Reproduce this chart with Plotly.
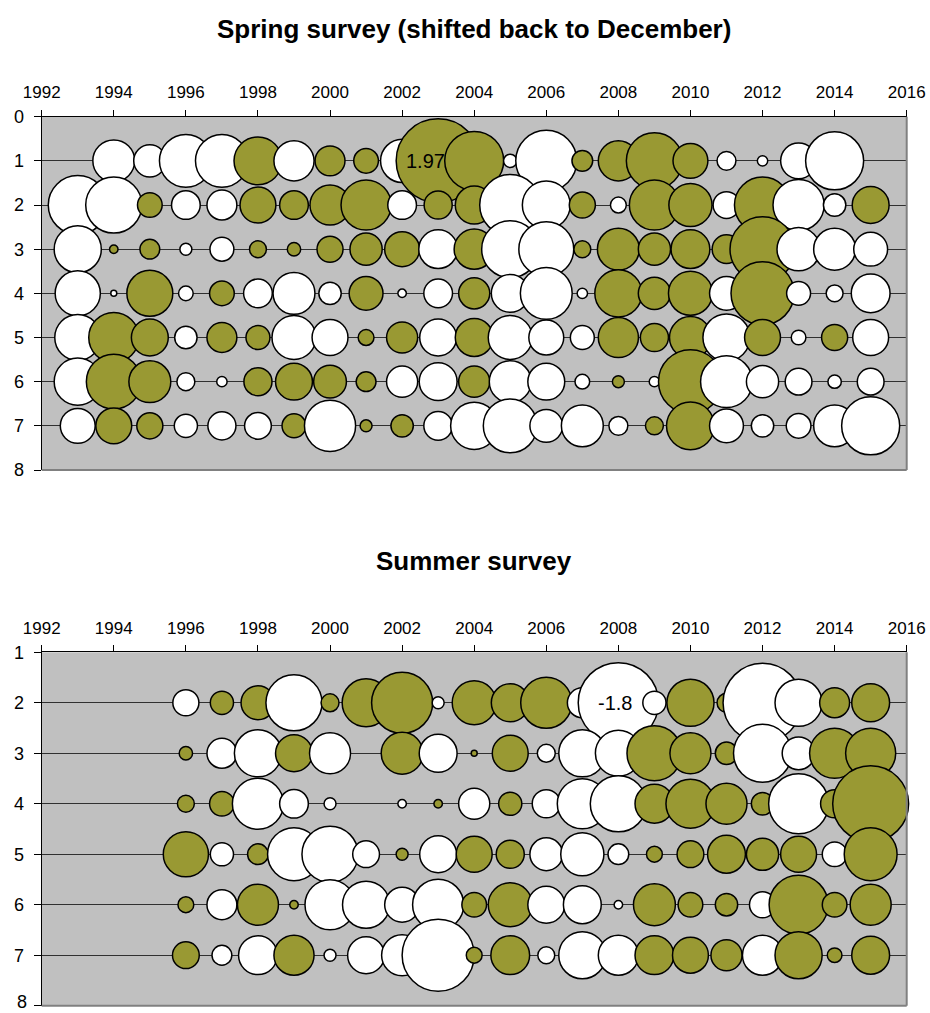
import plotly.graph_objects as go

# Spring survey: anomaly per age (rows) and year (columns), 1993-2015
spring_years = list(range(1993, 2016))
spring_age1 = [None, -0.49, -0.29, -0.78, -0.78, 0.64, -0.45, 0.25, 0.17, -0.52, 1.97, 0.97,
               -0.05, -1.04, 0.12, 0.45, 0.88, 0.34, -0.10, -0.03, -0.36, -0.94, None]
spring_age2 = [-0.97, -0.88, 0.17, -0.23, -0.25, 0.36, 0.23, 0.45, 0.70, -0.23, 0.22, 0.40,
               -1.04, -0.64, 0.19, -0.07, 0.70, 0.52, -0.20, 0.88, -0.73, -0.14, 0.38]
spring_age3 = [-0.62, 0.02, 0.11, -0.04, -0.16, 0.08, 0.05, 0.19, 0.29, 0.34, -0.42, 0.45,
               -0.91, -0.84, 0.08, 0.49, 0.29, 0.42, 0.23, 1.18, -0.52, -0.49, -0.32]
spring_age4 = [-0.57, -0.01, 0.59, -0.06, 0.17, -0.23, -0.49, -0.14, 0.32, -0.02, -0.23, 0.27,
               -0.40, -0.75, -0.03, 0.62, 0.29, 0.54, -0.32, 1.11, -0.16, -0.08, -0.42]
spring_age5 = [-0.59, 0.70, 0.38, -0.14, 0.25, 0.16, -0.54, -0.36, 0.07, 0.27, -0.38, 0.40,
               -0.54, -0.34, -0.16, 0.45, 0.22, 0.49, -0.62, 0.36, -0.06, 0.19, -0.36]
spring_age6 = [-0.62, 0.84, 0.49, -0.09, -0.03, 0.22, 0.38, 0.30, 0.11, -0.27, -0.40, 0.27,
               -0.49, -0.38, -0.06, 0.04, -0.03, 1.14, -0.75, -0.29, -0.20, -0.05, -0.20]
spring_age7 = [-0.34, 0.36, 0.19, -0.15, -0.22, -0.20, 0.16, -0.73, 0.04, 0.14, -0.23, -0.62,
               -0.81, -0.30, -0.49, -0.10, 0.09, 0.64, -0.32, -0.14, -0.17, -0.49, -0.94]

# Summer survey: anomaly per age (rows) and year (columns), 1996-2015
summer_years = list(range(1996, 2016))
summer_age2 = [-0.19, 0.15, 0.32, -0.88, 0.09, 0.64, 1.04, -0.04, 0.54, 0.40,
               0.73, -0.25, -1.80, -0.15, 0.62, 0.10, -1.74, -0.62, 0.25, 0.40]
summer_age3 = [0.05, -0.25, -0.62, 0.38, -0.47, None, 0.49, -0.40, 0.01, 0.36,
               -0.09, -0.62, -0.59, 0.84, 0.47, 0.14, -0.94, -0.30, 0.70, 0.70]
summer_age4 = [0.08, 0.17, -0.73, -0.23, -0.04, None, -0.02, 0.02, -0.27, 0.15,
               -0.22, -0.70, -0.88, 0.42, 0.67, 0.47, 0.14, -1.00, 0.22, 1.61]
summer_age5 = [0.57, -0.15, 0.12, -0.78, -0.88, -0.20, 0.04, -0.38, 0.36, 0.22,
               -0.30, -0.52, -0.12, 0.07, 0.20, 0.40, 0.29, 0.36, -0.17, 0.78]
summer_age6 = [0.07, -0.25, 0.47, 0.02, -0.70, -0.62, -0.34, -0.73, 0.17, 0.54,
               -0.38, -0.40, -0.02, 0.49, 0.17, 0.14, -0.19, 0.97, 0.17, 0.47]
summer_age7 = [0.20, -0.11, -0.42, 0.45, -0.04, -0.38, -0.47, -1.45, 0.07, 0.42,
               -0.08, -0.62, -0.45, 0.42, 0.36, 0.27, -0.45, 0.62, 0.06, 0.40]

spring_rows = [(1, spring_age1), (2, spring_age2), (3, spring_age3), (4, spring_age4),
               (5, spring_age5), (6, spring_age6), (7, spring_age7)]
summer_rows = [(2, summer_age2), (3, summer_age3), (4, summer_age4),
               (5, summer_age5), (6, summer_age6), (7, summer_age7)]

POS = "#999933"
NEG = "#FFFFFF"
FONT = "Liberation Sans, Arial, sans-serif"
MAX_VAL = 1.97
MAX_DIAM = 84
SIZEREF = 2.0 * MAX_VAL / MAX_DIAM ** 2

fig = go.Figure()


def add_rows(rows, years, xa, ya):
    for age, vals in rows:
        xs, ys, ss, cs = [], [], [], []
        for yr, v in zip(years, vals):
            if v is None:
                continue
            xs.append(yr)
            ys.append(age)
            ss.append(abs(v))
            cs.append(POS if v > 0 else NEG)
        fig.add_trace(go.Scatter(
            x=xs, y=ys, mode="markers", xaxis=xa, yaxis=ya,
            showlegend=False, hoverinfo="x+y", cliponaxis=False,
            marker=dict(size=ss, sizemode="area", sizeref=SIZEREF, sizemin=0,
                        color=cs, line=dict(color="black", width=1.5), opacity=1),
        ))


add_rows(spring_rows, spring_years, "x", "y")
add_rows(summer_rows, summer_years, "x2", "y2")

W, H = 930, 1013
x_dom = [41.7 / W, 906.7 / W]
top_dom = [1 - 470.0 / H, 1 - 116.7 / H]
bot_dom = [1 - 1005.7 / H, 1 - 652.3 / H]

xaxis_common = dict(
    range=[1992, 2016], dtick=2, tick0=1992, side="top", domain=x_dom,
    showgrid=False, zeroline=False, showline=True, linecolor="black", linewidth=1,
    ticks="outside", ticklen=6, tickcolor="black", tickwidth=1, automargin=False,
    tickfont=dict(family=FONT, size=17, color="black"), ticklabelstandoff=5,
    fixedrange=True,
)
yaxis_common = dict(
    dtick=1, showgrid=True, gridcolor="#303030", gridwidth=1, zeroline=False,
    showline=True, linecolor="black", linewidth=1, automargin=False,
    ticks="outside", ticklen=7, tickcolor="black", tickwidth=1,
    tickfont=dict(family=FONT, size=18, color="black"), ticklabelstandoff=6,
    fixedrange=True,
)

fig.update_layout(
    width=W, height=H,
    margin=dict(l=0, r=0, t=0, b=0, autoexpand=False),
    paper_bgcolor="white",
    plot_bgcolor="#C0C0C0",
    xaxis=dict(xaxis_common, anchor="y"),
    yaxis=dict(yaxis_common, range=[8, 0], domain=top_dom, anchor="x"),
    xaxis2=dict(xaxis_common, anchor="y2"),
    yaxis2=dict(yaxis_common, range=[8, 1], domain=bot_dom, anchor="x2"),
)

# grey frame on the right and bottom of each plot area
shapes = []
for xr, yr in (("x domain", "y domain"), ("x2 domain", "y2 domain")):
    shapes.append(dict(type="line", xref=xr, yref=yr, x0=1, x1=1, y0=0, y1=1,
                       line=dict(color="#808080", width=2), layer="above"))
    shapes.append(dict(type="line", xref=xr, yref=yr, x0=0, x1=1, y0=0, y1=0,
                       line=dict(color="#808080", width=2), layer="above"))
fig.update_layout(shapes=shapes)

label_x = (41.7 - 7 - 6) / W

annotations = [
    dict(text="<b>Spring survey (shifted back to December)</b>", xref="paper", yref="paper",
         x=474 / W, y=1 - 29 / H, showarrow=False, xanchor="center", yanchor="middle",
         font=dict(family=FONT, size=26, color="black")),
    dict(text="<b>Summer survey</b>", xref="paper", yref="paper",
         x=474 / W, y=1 - 561 / H, showarrow=False, xanchor="center", yanchor="middle",
         font=dict(family=FONT, size=26, color="black")),
    dict(text=str(spring_age1[spring_years.index(2003)]), x=2003, y=1, xref="x", yref="y",
         showarrow=False, xshift=-13, font=dict(family=FONT, size=20, color="black")),
    dict(text=str(summer_age2[summer_years.index(2008)]), x=2008, y=2, xref="x2", yref="y2",
         showarrow=False, xshift=-3, font=dict(family=FONT, size=20, color="black")),
    # bottom end label of the summer age axis, kept just inside the page edge
    dict(text="8", x=label_x, y=0, xref="paper", yref="paper", showarrow=False,
         xanchor="right", yanchor="bottom", yshift=-1,
         font=dict(family=FONT, size=18, color="black")),
]
fig.update_layout(annotations=annotations)

fig.write_html("out.html")
